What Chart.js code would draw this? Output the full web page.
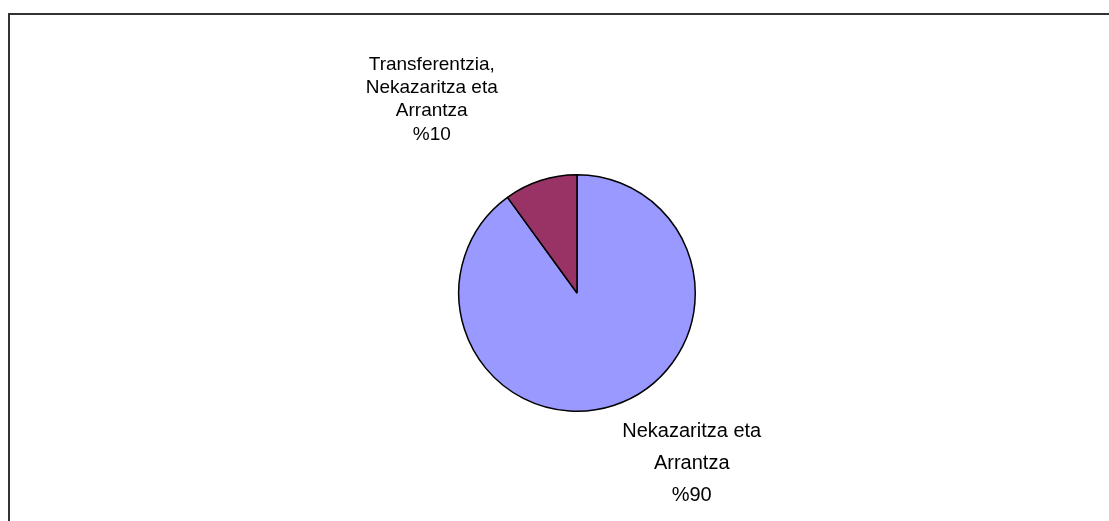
<!DOCTYPE html>
<html>
<head>
<meta charset="utf-8">
<script src="https://cdn.jsdelivr.net/npm/chart.js@4/dist/chart.umd.min.js"></script>
<style>
  html, body { margin: 0; padding: 0; background: #fff; }
  #wrap { position: relative; width: 1109px; height: 521px; }
</style>
</head>
<body>
<div id="wrap"><canvas id="pieChart"></canvas></div>
<script>
// category names, one entry per line of the label
const categories = [
    ['Nekazaritza eta', 'Arrantza'],
    ['Transferentzia,', 'Nekazaritza eta', 'Arrantza']
];
const values = [90, 10];
const colors = ['#9999FF', '#993366'];

// label look per slice (size, line step, nudge from the anchor point)
const labelStyle = [
    { size: 20, step: 32, dx: 5, dy: -1 },
    { size: 19, step: 23.3, dx: -39, dy: -23 }
];

const outsideLabels = {
    id: 'outsideLabels',
    afterDatasetsDraw(chart) {
        const ctx = chart.ctx;
        const meta = chart.getDatasetMeta(0);
        ctx.save();
        ctx.fillStyle = '#000';
        ctx.textAlign = 'center';
        ctx.textBaseline = 'middle';
        meta.data.forEach(function (arc, i) {
            const st = labelStyle[i];
            ctx.font = st.size + 'px "Liberation Sans", Arial, sans-serif';
            const lines = categories[i].concat(['%' + values[i]]);
            const mid = (arc.startAngle + arc.endAngle) / 2;
            const r = arc.outerRadius + 12;
            const ax = arc.x + Math.cos(mid) * r + st.dx;
            const ay = arc.y + Math.sin(mid) * r + st.dy;
            let w = 0;
            lines.forEach(function (l) { w = Math.max(w, ctx.measureText(l).width); });
            const h = lines.length * st.step;
            const cx = Math.cos(mid) < 0 ? ax - w / 2 : ax + w / 2;
            const top = Math.sin(mid) < 0 ? ay - h : ay;
            lines.forEach(function (l, j) {
                ctx.fillText(l, cx, top + st.step * (j + 0.5));
            });
        });
        ctx.restore();
    }
};

// frame round the plot, cut off at right and bottom
const frame = {
    id: 'frame',
    beforeDraw(chart) {
        const ctx = chart.ctx;
        ctx.save();
        ctx.fillStyle = '#fff';
        ctx.fillRect(0, 0, chart.width, chart.height);
        ctx.strokeStyle = '#333';
        ctx.lineWidth = 2;
        ctx.strokeRect(9, 14, 1200, 600);
        ctx.restore();
    }
};

new Chart(document.getElementById('pieChart').getContext('2d'), {
    type: 'pie',
    data: {
        labels: categories.map(function (c) { return c.join(' '); }),
        datasets: [{
            data: values,
            backgroundColor: colors,
            borderColor: '#000',
            borderWidth: 1.5
        }]
    },
    options: {
        responsive: true,
        maintainAspectRatio: false,
        animation: false,
        layout: {
            padding: { left: 458, right: 413, top: 174, bottom: 109 }
        },
        plugins: {
            legend: { display: false },
            tooltip: { enabled: false }
        }
    },
    plugins: [frame, outsideLabels]
});
</script>
</body>
</html>
